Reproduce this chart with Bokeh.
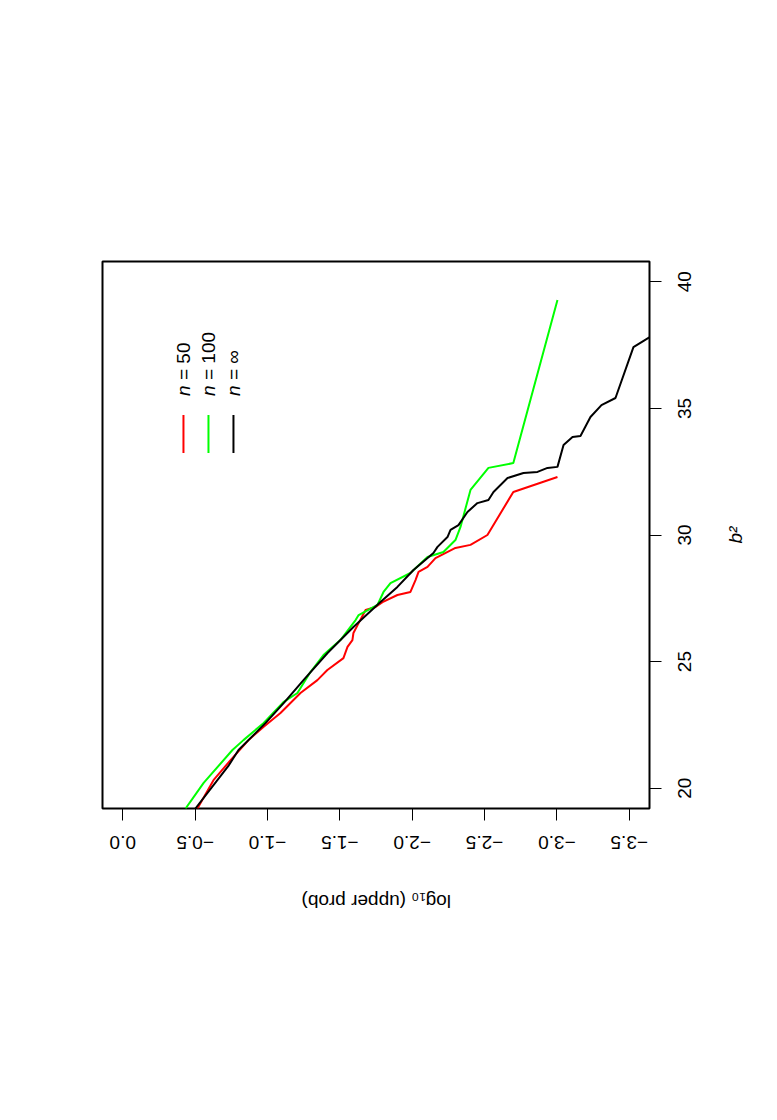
import math
from bokeh.plotting import figure
from bokeh.models import Range1d, FixedTicker, ColumnDataSource, LinearAxis
from bokeh.core.properties import value
from bokeh.embed import file_html
from bokeh.resources import INLINE

# ---------------- data ----------------
# b^2 values and log10(upper prob) values for each series
b2_n50 = [19.2, 20.32, 21.11, 21.90, 22.42, 22.97, 23.76, 24.27, 24.67, 25.14, 25.58,
          25.85, 26.13, 26.52, 27.04, 27.16, 27.35, 27.63, 27.75, 28.22, 28.54, 28.74,
          29.09, 29.49, 29.61, 30.00, 31.70, 32.29]
lp_n50 = [-0.516, -0.627, -0.745, -0.869, -0.972, -1.090, -1.228, -1.345, -1.414, -1.525,
          -1.553, -1.587, -1.594, -1.630, -1.678, -1.747, -1.795, -1.898, -1.988, -2.023,
          -2.044, -2.106, -2.161, -2.299, -2.403, -2.520, -2.699, -3.004]

b2_n100 = [19.2, 20.21, 21.51, 21.90, 22.57, 23.40, 23.76, 24.59, 25.26, 25.58, 25.85,
           26.64, 26.84, 27.24, 27.75, 28.10, 28.50, 29.13, 29.33, 29.80, 30.32, 31.78,
           32.65, 32.84, 39.28]
lp_n100 = [-0.434, -0.559, -0.758, -0.834, -0.972, -1.110, -1.207, -1.297, -1.387, -1.449,
           -1.504, -1.609, -1.630, -1.760, -1.802, -1.850, -1.988, -2.106, -2.216, -2.299,
           -2.334, -2.403, -2.527, -2.699, -3.004]

b2_inf = [19.2, 20.88, 21.51, 22.57, 23.40, 24.27, 25.34, 26.37, 27.35, 27.95, 28.62,
          29.29, 29.53, 29.92, 30.20, 30.39, 30.91, 31.26, 31.38, 31.70, 32.25, 32.45,
          32.49, 32.65, 32.69, 33.55, 33.87, 33.91, 34.66, 35.13, 35.41, 37.42, 37.78, 38.1]
lp_inf = [-0.502, -0.730, -0.800, -0.986, -1.118, -1.249, -1.415, -1.594, -1.781, -1.898,
          -2.009, -2.147, -2.175, -2.244, -2.265, -2.320, -2.382, -2.451, -2.527, -2.562,
          -2.659, -2.769, -2.866, -2.935, -3.004, -3.046, -3.108, -3.163, -3.232, -3.308,
          -3.405, -3.529, -3.633, -3.70]

series_labels = ["50", "100", "\u221e"]
series_colors = ["#FF0000", "#00FF00", "#000000"]

lp_ticks = [0.0, -0.5, -1.0, -1.5, -2.0, -2.5, -3.0, -3.5]
lp_tick_labels = ["0.0", "\u22120.5", "\u22121.0", "\u22121.5", "\u22122.0",
                  "\u22122.5", "\u22123.0", "\u22123.5"]
b2_ticks = [20, 25, 30, 35, 40]
b2_tick_labels = ["20", "25", "30", "35", "40"]
x_title = "log\u2081\u2080 (upper prob)"
y_title = "b\u00b2"

# ---------------- layout / style ----------------
FONT = "Liberation Sans"
FS_PX = 19
FS = f"{FS_PX}px"
X0, X1 = 0.14, -3.64          # log10 range (reversed, as in the rotated page)
Y0, Y1 = 19.2, 40.8           # b^2 range
FRAME = 547                   # frame size in px
PX_X = FRAME / abs(X1 - X0)   # px per log10 unit
PX_Y = FRAME / abs(Y1 - Y0)   # px per b^2 unit

# Arial / Liberation Sans advance widths (em) used to centre the rotated labels
ADV = {"0": .556, "1": .556, "2": .556, "3": .556, "4": .556, "5": .556,
       ".": .278, "\u2212": .584, "b": .556, "\u00b2": .333}


def text_w(s, px=FS_PX):
    return sum(ADV.get(ch, .556) for ch in s) * px


p = figure(width=761, height=1104, output_backend="svg", toolbar_location=None,
           x_range=Range1d(X0, X1), y_range=Range1d(Y0, Y1),
           y_axis_location="right",
           min_border_left=102, min_border_top=261,
           min_border_right=112, min_border_bottom=296)
p.xgrid.visible = False
p.ygrid.visible = False
p.outline_line_color = "black"
p.outline_line_width = 2
p.background_fill_color = "white"
p.border_fill_color = "white"


def setup_label_axis(ax, ticks, labels, orient, standoff, tick_marks=None):
    # labels sit on (shifted) major ticks; the visible tick marks are the minor ticks
    ax.ticker = FixedTicker(ticks=ticks, minor_ticks=tick_marks or [])
    ax.major_label_overrides = {t: s for t, s in zip(ticks, labels)}
    ax.axis_line_color = None
    ax.major_tick_line_color = None
    ax.major_tick_in = 0
    ax.major_tick_out = 12 if tick_marks else 0
    if tick_marks:
        ax.minor_tick_line_color = "black"
        ax.minor_tick_line_width = 1
        ax.minor_tick_in = 0
        ax.minor_tick_out = 12
    else:
        ax.minor_tick_line_color = None
    ax.major_label_orientation = orient
    ax.major_label_standoff = standoff
    ax.major_label_text_font = FONT
    ax.major_label_text_font_size = FS
    ax.major_label_text_color = "black"
    return ax


# bottom tick labels, upside down, anchored so that each is centred on its tick
x_lab_pos = [round(t + text_w(s) / 2 / PX_X, 5) for t, s in zip(lp_ticks, lp_tick_labels)]
setup_label_axis(p.xaxis[0], x_lab_pos, lp_tick_labels, math.pi, 22, tick_marks=lp_ticks)
# bottom title
xt_w = 149.0
x_title_pos = [round((X0 + X1) / 2 + xt_w / 2 / PX_X, 5)]
p.add_layout(setup_label_axis(LinearAxis(), x_title_pos, [x_title], math.pi, 43), "below")

# right tick labels, reading upwards, centred on the ticks
y_lab_pos = [round(t - text_w(s) / 2 / PX_Y, 5) for t, s in zip(b2_ticks, b2_tick_labels)]
setup_label_axis(p.yaxis[0], y_lab_pos, b2_tick_labels, math.pi / 2, 23, tick_marks=b2_ticks)
# right title b^2
y_title_pos = [round((Y0 + Y1) / 2 - text_w(y_title) / 2 / PX_Y, 5)]
yt_ax = setup_label_axis(LinearAxis(), y_title_pos, [y_title], math.pi / 2, 35)
yt_ax.major_label_text_font_style = "italic"
p.add_layout(yt_ax, "right")

for b2, lp, c in [(b2_n50, lp_n50, series_colors[0]),
                  (b2_n100, lp_n100, series_colors[1]),
                  (b2_inf, lp_inf, series_colors[2])]:
    p.line(x=lp, y=b2, line_color=c, line_width=2)

# ---------------- legend (drawn by hand, rotated like the reference) ----------------
leg_x = [-0.4195, -0.5923, -0.7650]
leg_seg_y0, leg_seg_y1 = 33.24, 34.74
leg_n_y = 35.49
leg_eq_y = 36.12
leg_src = ColumnDataSource(dict(
    x=leg_x, y0=[leg_seg_y0] * 3, y1=[leg_seg_y1] * 3,
    ny=[leg_n_y] * 3, ey=[leg_eq_y] * 3,
    n=["n"] * 3, eq=["= " + s for s in series_labels], color=series_colors))
p.segment(x0="x", y0="y0", x1="x", y1="y1", line_color="color", line_width=2, source=leg_src)
p.text(x="x", y="ny", text="n", angle=math.pi / 2, text_align="left", text_baseline="middle",
       text_font=value(FONT), text_font_size=FS, text_font_style="italic",
       text_color="black", source=leg_src)
p.text(x="x", y="ey", text="eq", angle=math.pi / 2, text_align="left", text_baseline="middle",
       text_font=value(FONT), text_font_size=FS, text_color="black", source=leg_src)

open("out.html", "w").write(file_html(p, INLINE))
